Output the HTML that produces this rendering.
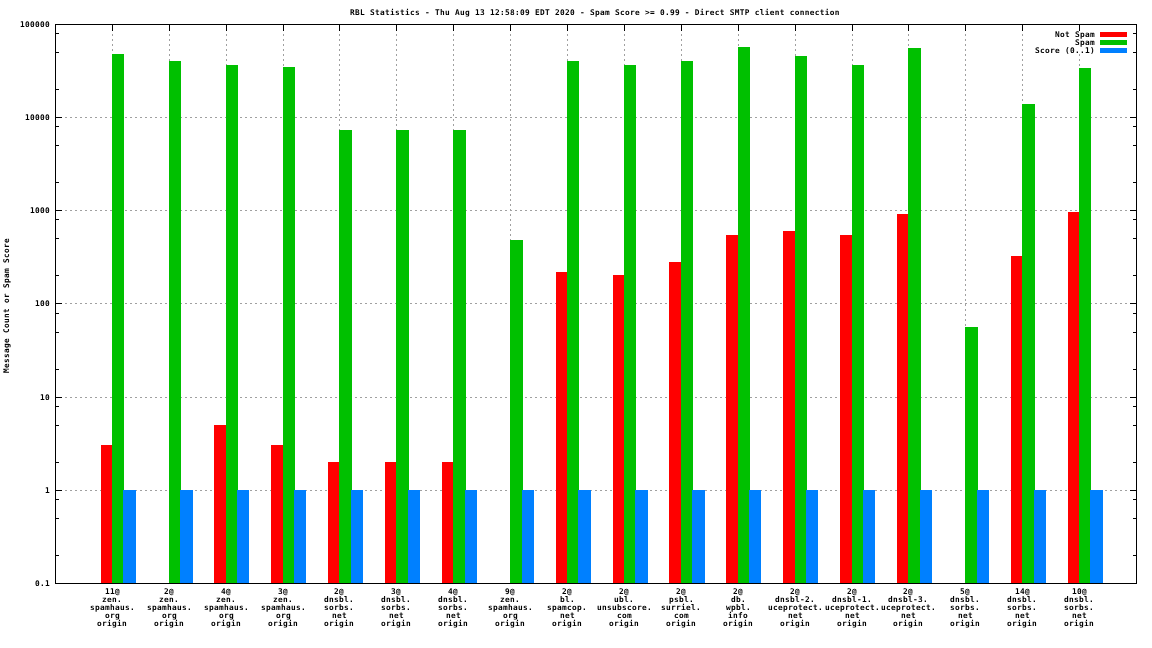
<!DOCTYPE html><html><head><meta charset="utf-8"><title>RBL Statistics</title><style>html,body{margin:0;padding:0;background:#fff;overflow:hidden}svg{display:block;will-change:transform}text{font-family:"DejaVu Sans Mono",monospace;font-size:7.8px;letter-spacing:0.304px;fill:#000;font-weight:bold}</style></head><body>
<svg width="1152" height="648" viewBox="0 0 1152 648">
<rect x="0" y="0" width="1152" height="648" fill="#fff"/>
<defs><pattern id="hd" x="55" y="0" width="5" height="1" patternUnits="userSpaceOnUse"><rect x="0" y="0" width="2" height="1" fill="#a0a0a0"/></pattern><pattern id="vd" x="0" y="24" width="1" height="5" patternUnits="userSpaceOnUse"><rect x="0" y="0" width="1" height="2" fill="#a0a0a0"/></pattern></defs>
<g fill="#a0a0a0" shape-rendering="crispEdges">
<rect x="55" y="490" width="1082" height="1" fill="url(#hd)"/>
<rect x="55" y="397" width="1082" height="1" fill="url(#hd)"/>
<rect x="55" y="303" width="1082" height="1" fill="url(#hd)"/>
<rect x="55" y="210" width="1082" height="1" fill="url(#hd)"/>
<rect x="55" y="117" width="1082" height="1" fill="url(#hd)"/>
<rect x="112" y="24" width="1" height="560" fill="url(#vd)"/>
<rect x="169" y="24" width="1" height="560" fill="url(#vd)"/>
<rect x="226" y="24" width="1" height="560" fill="url(#vd)"/>
<rect x="283" y="24" width="1" height="560" fill="url(#vd)"/>
<rect x="339" y="24" width="1" height="560" fill="url(#vd)"/>
<rect x="396" y="24" width="1" height="560" fill="url(#vd)"/>
<rect x="453" y="24" width="1" height="560" fill="url(#vd)"/>
<rect x="510" y="24" width="1" height="560" fill="url(#vd)"/>
<rect x="567" y="24" width="1" height="560" fill="url(#vd)"/>
<rect x="624" y="24" width="1" height="560" fill="url(#vd)"/>
<rect x="681" y="24" width="1" height="560" fill="url(#vd)"/>
<rect x="738" y="24" width="1" height="560" fill="url(#vd)"/>
<rect x="795" y="24" width="1" height="560" fill="url(#vd)"/>
<rect x="852" y="24" width="1" height="560" fill="url(#vd)"/>
<rect x="908" y="24" width="1" height="560" fill="url(#vd)"/>
<rect x="965" y="24" width="1" height="560" fill="url(#vd)"/>
<rect x="1022" y="24" width="1" height="560" fill="url(#vd)"/>
<rect x="1079" y="24" width="1" height="560" fill="url(#vd)"/>
</g>
<g shape-rendering="crispEdges">
<rect x="101" y="445" width="12" height="139" fill="#ff0000"/>
<rect x="214" y="425" width="13" height="159" fill="#ff0000"/>
<rect x="271" y="445" width="13" height="139" fill="#ff0000"/>
<rect x="328" y="462" width="12" height="122" fill="#ff0000"/>
<rect x="385" y="462" width="12" height="122" fill="#ff0000"/>
<rect x="442" y="462" width="12" height="122" fill="#ff0000"/>
<rect x="556" y="272" width="12" height="312" fill="#ff0000"/>
<rect x="613" y="275" width="12" height="309" fill="#ff0000"/>
<rect x="669" y="262" width="13" height="322" fill="#ff0000"/>
<rect x="726" y="235" width="13" height="349" fill="#ff0000"/>
<rect x="783" y="231" width="13" height="353" fill="#ff0000"/>
<rect x="840" y="235" width="13" height="349" fill="#ff0000"/>
<rect x="897" y="214" width="12" height="370" fill="#ff0000"/>
<rect x="1011" y="256" width="12" height="328" fill="#ff0000"/>
<rect x="1068" y="212" width="12" height="372" fill="#ff0000"/>
<rect x="112" y="54" width="12" height="530" fill="#00c000"/>
<rect x="169" y="61" width="12" height="523" fill="#00c000"/>
<rect x="226" y="65" width="12" height="519" fill="#00c000"/>
<rect x="283" y="67" width="12" height="517" fill="#00c000"/>
<rect x="339" y="130" width="13" height="454" fill="#00c000"/>
<rect x="396" y="130" width="13" height="454" fill="#00c000"/>
<rect x="453" y="130" width="13" height="454" fill="#00c000"/>
<rect x="510" y="240" width="13" height="344" fill="#00c000"/>
<rect x="567" y="61" width="12" height="523" fill="#00c000"/>
<rect x="624" y="65" width="12" height="519" fill="#00c000"/>
<rect x="681" y="61" width="12" height="523" fill="#00c000"/>
<rect x="738" y="47" width="12" height="537" fill="#00c000"/>
<rect x="795" y="56" width="12" height="528" fill="#00c000"/>
<rect x="852" y="65" width="12" height="519" fill="#00c000"/>
<rect x="908" y="48" width="13" height="536" fill="#00c000"/>
<rect x="965" y="327" width="13" height="257" fill="#00c000"/>
<rect x="1022" y="104" width="13" height="480" fill="#00c000"/>
<rect x="1079" y="68" width="12" height="516" fill="#00c000"/>
<rect x="123" y="490" width="13" height="94" fill="#0080ff"/>
<rect x="180" y="490" width="13" height="94" fill="#0080ff"/>
<rect x="237" y="490" width="12" height="94" fill="#0080ff"/>
<rect x="294" y="490" width="12" height="94" fill="#0080ff"/>
<rect x="351" y="490" width="12" height="94" fill="#0080ff"/>
<rect x="408" y="490" width="12" height="94" fill="#0080ff"/>
<rect x="465" y="490" width="12" height="94" fill="#0080ff"/>
<rect x="522" y="490" width="12" height="94" fill="#0080ff"/>
<rect x="578" y="490" width="13" height="94" fill="#0080ff"/>
<rect x="635" y="490" width="13" height="94" fill="#0080ff"/>
<rect x="692" y="490" width="13" height="94" fill="#0080ff"/>
<rect x="749" y="490" width="12" height="94" fill="#0080ff"/>
<rect x="806" y="490" width="12" height="94" fill="#0080ff"/>
<rect x="863" y="490" width="12" height="94" fill="#0080ff"/>
<rect x="920" y="490" width="12" height="94" fill="#0080ff"/>
<rect x="977" y="490" width="12" height="94" fill="#0080ff"/>
<rect x="1034" y="490" width="12" height="94" fill="#0080ff"/>
<rect x="1090" y="490" width="13" height="94" fill="#0080ff"/>
</g>
<g fill="#000" shape-rendering="crispEdges">
<rect x="55" y="24" width="1082" height="1"/>
<rect x="55" y="583" width="1082" height="1"/>
<rect x="55" y="24" width="1" height="560"/>
<rect x="1136" y="24" width="1" height="560"/>
<rect x="55" y="583" width="7" height="1"/>
<rect x="1130" y="583" width="7" height="1"/>
<rect x="55" y="555" width="4" height="1"/>
<rect x="1133" y="555" width="4" height="1"/>
<rect x="55" y="518" width="4" height="1"/>
<rect x="1133" y="518" width="4" height="1"/>
<rect x="55" y="499" width="4" height="1"/>
<rect x="1133" y="499" width="4" height="1"/>
<rect x="55" y="490" width="7" height="1"/>
<rect x="1130" y="490" width="7" height="1"/>
<rect x="55" y="462" width="4" height="1"/>
<rect x="1133" y="462" width="4" height="1"/>
<rect x="55" y="425" width="4" height="1"/>
<rect x="1133" y="425" width="4" height="1"/>
<rect x="55" y="406" width="4" height="1"/>
<rect x="1133" y="406" width="4" height="1"/>
<rect x="55" y="397" width="7" height="1"/>
<rect x="1130" y="397" width="7" height="1"/>
<rect x="55" y="369" width="4" height="1"/>
<rect x="1133" y="369" width="4" height="1"/>
<rect x="55" y="332" width="4" height="1"/>
<rect x="1133" y="332" width="4" height="1"/>
<rect x="55" y="313" width="4" height="1"/>
<rect x="1133" y="313" width="4" height="1"/>
<rect x="55" y="303" width="7" height="1"/>
<rect x="1130" y="303" width="7" height="1"/>
<rect x="55" y="275" width="4" height="1"/>
<rect x="1133" y="275" width="4" height="1"/>
<rect x="55" y="238" width="4" height="1"/>
<rect x="1133" y="238" width="4" height="1"/>
<rect x="55" y="219" width="4" height="1"/>
<rect x="1133" y="219" width="4" height="1"/>
<rect x="55" y="210" width="7" height="1"/>
<rect x="1130" y="210" width="7" height="1"/>
<rect x="55" y="182" width="4" height="1"/>
<rect x="1133" y="182" width="4" height="1"/>
<rect x="55" y="145" width="4" height="1"/>
<rect x="1133" y="145" width="4" height="1"/>
<rect x="55" y="126" width="4" height="1"/>
<rect x="1133" y="126" width="4" height="1"/>
<rect x="55" y="117" width="7" height="1"/>
<rect x="1130" y="117" width="7" height="1"/>
<rect x="55" y="89" width="4" height="1"/>
<rect x="1133" y="89" width="4" height="1"/>
<rect x="55" y="52" width="4" height="1"/>
<rect x="1133" y="52" width="4" height="1"/>
<rect x="55" y="33" width="4" height="1"/>
<rect x="1133" y="33" width="4" height="1"/>
<rect x="55" y="24" width="7" height="1"/>
<rect x="1130" y="24" width="7" height="1"/>
<rect x="112" y="24" width="1" height="7"/>
<rect x="169" y="24" width="1" height="7"/>
<rect x="226" y="24" width="1" height="7"/>
<rect x="283" y="24" width="1" height="7"/>
<rect x="339" y="24" width="1" height="7"/>
<rect x="396" y="24" width="1" height="7"/>
<rect x="453" y="24" width="1" height="7"/>
<rect x="510" y="24" width="1" height="7"/>
<rect x="567" y="24" width="1" height="7"/>
<rect x="624" y="24" width="1" height="7"/>
<rect x="681" y="24" width="1" height="7"/>
<rect x="738" y="24" width="1" height="7"/>
<rect x="795" y="24" width="1" height="7"/>
<rect x="852" y="24" width="1" height="7"/>
<rect x="908" y="24" width="1" height="7"/>
<rect x="965" y="24" width="1" height="7"/>
<rect x="1022" y="24" width="1" height="7"/>
<rect x="1079" y="24" width="1" height="7"/>
</g>
<rect x="1029" y="31" width="104" height="23" fill="#fff"/>
<g shape-rendering="crispEdges">
<rect x="1100" y="32" width="27" height="5" fill="#ff0000"/>
<rect x="1100" y="40" width="27" height="5" fill="#00c000"/>
<rect x="1100" y="48" width="27" height="5" fill="#0080ff"/>
</g>
<text x="1055" y="37">Not Spam</text>
<text x="1075" y="45">Spam</text>
<text x="1035" y="53">Score (0..1)</text>
<text x="350" y="15">RBL Statistics - Thu Aug 13 12:58:09 EDT 2020 - Spam Score &gt;= 0.99 - Direct SMTP client connection</text>
<text x="35" y="586">0.1</text>
<text x="45" y="493">1</text>
<text x="40" y="400">10</text>
<text x="35" y="306">100</text>
<text x="30" y="213">1000</text>
<text x="25" y="120">10000</text>
<text x="20" y="27">100000</text>
<text x="105" y="594">11@</text>
<text x="102" y="602">zen.</text>
<text x="90" y="610">spamhaus.</text>
<text x="105" y="618">org</text>
<text x="97" y="626">origin</text>
<text x="164" y="594">2@</text>
<text x="159" y="602">zen.</text>
<text x="147" y="610">spamhaus.</text>
<text x="162" y="618">org</text>
<text x="154" y="626">origin</text>
<text x="221" y="594">4@</text>
<text x="216" y="602">zen.</text>
<text x="204" y="610">spamhaus.</text>
<text x="219" y="618">org</text>
<text x="211" y="626">origin</text>
<text x="278" y="594">3@</text>
<text x="273" y="602">zen.</text>
<text x="261" y="610">spamhaus.</text>
<text x="276" y="618">org</text>
<text x="268" y="626">origin</text>
<text x="334" y="594">2@</text>
<text x="324" y="602">dnsbl.</text>
<text x="324" y="610">sorbs.</text>
<text x="332" y="618">net</text>
<text x="324" y="626">origin</text>
<text x="391" y="594">3@</text>
<text x="381" y="602">dnsbl.</text>
<text x="381" y="610">sorbs.</text>
<text x="389" y="618">net</text>
<text x="381" y="626">origin</text>
<text x="448" y="594">4@</text>
<text x="438" y="602">dnsbl.</text>
<text x="438" y="610">sorbs.</text>
<text x="446" y="618">net</text>
<text x="438" y="626">origin</text>
<text x="505" y="594">9@</text>
<text x="500" y="602">zen.</text>
<text x="488" y="610">spamhaus.</text>
<text x="503" y="618">org</text>
<text x="495" y="626">origin</text>
<text x="562" y="594">2@</text>
<text x="560" y="602">bl.</text>
<text x="547" y="610">spamcop.</text>
<text x="560" y="618">net</text>
<text x="552" y="626">origin</text>
<text x="619" y="594">2@</text>
<text x="614" y="602">ubl.</text>
<text x="597" y="610">unsubscore.</text>
<text x="617" y="618">com</text>
<text x="609" y="626">origin</text>
<text x="676" y="594">2@</text>
<text x="669" y="602">psbl.</text>
<text x="661" y="610">surriel.</text>
<text x="674" y="618">com</text>
<text x="666" y="626">origin</text>
<text x="733" y="594">2@</text>
<text x="731" y="602">db.</text>
<text x="726" y="610">wpbl.</text>
<text x="728" y="618">info</text>
<text x="723" y="626">origin</text>
<text x="790" y="594">2@</text>
<text x="775" y="602">dnsbl-2.</text>
<text x="768" y="610">uceprotect.</text>
<text x="788" y="618">net</text>
<text x="780" y="626">origin</text>
<text x="847" y="594">2@</text>
<text x="832" y="602">dnsbl-1.</text>
<text x="825" y="610">uceprotect.</text>
<text x="845" y="618">net</text>
<text x="837" y="626">origin</text>
<text x="903" y="594">2@</text>
<text x="888" y="602">dnsbl-3.</text>
<text x="881" y="610">uceprotect.</text>
<text x="901" y="618">net</text>
<text x="893" y="626">origin</text>
<text x="960" y="594">5@</text>
<text x="950" y="602">dnsbl.</text>
<text x="950" y="610">sorbs.</text>
<text x="958" y="618">net</text>
<text x="950" y="626">origin</text>
<text x="1015" y="594">14@</text>
<text x="1007" y="602">dnsbl.</text>
<text x="1007" y="610">sorbs.</text>
<text x="1015" y="618">net</text>
<text x="1007" y="626">origin</text>
<text x="1072" y="594">10@</text>
<text x="1064" y="602">dnsbl.</text>
<text x="1064" y="610">sorbs.</text>
<text x="1072" y="618">net</text>
<text x="1064" y="626">origin</text>
<text x="0" y="0" transform="translate(9,373) rotate(-90)">Message Count or Spam Score</text>
</svg></body></html>
